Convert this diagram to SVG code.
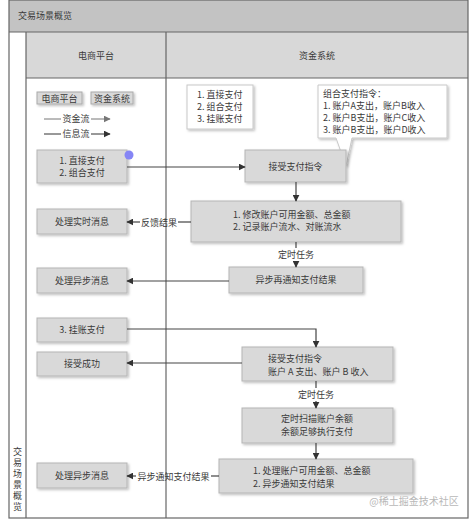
<svg xmlns="http://www.w3.org/2000/svg" width="471" height="521" viewBox="0 0 471 521">
<defs>
<marker id="ah" viewBox="0 0 10 10" refX="9" refY="5" markerWidth="7" markerHeight="7" markerUnits="userSpaceOnUse" orient="auto"><path d="M0,0 L10,5 L0,10 z" fill="#333"/></marker>
<marker id="ahl" viewBox="0 0 10 10" refX="9" refY="5" markerWidth="7" markerHeight="7" markerUnits="userSpaceOnUse" orient="auto"><path d="M0,0 L10,5 L0,10 z" fill="#777"/></marker>
<filter id="sh" x="-10%" y="-10%" width="130%" height="140%"><feDropShadow dx="1.5" dy="1.5" stdDeviation="0.8" flood-color="#000" flood-opacity="0.25"/></filter>
</defs>
<style>
text{font-family:"Noto Sans CJK SC","Noto Sans",sans-serif;fill:#3a3a3a;font-size:9px}
.box{fill:#d9d9d9;stroke:#b5b5b5;stroke-width:1;filter:url(#sh)}
.note{fill:#fff;stroke:#c8c8c8;stroke-width:1;filter:url(#sh)}
.frame{fill:none;stroke:#666;stroke-width:1.2}
.ln{fill:none;stroke:#444;stroke-width:1.2}
.c{text-anchor:middle}
</style>
<rect x="0" y="0" width="471" height="521" fill="#fff"/>
<g id="frame">
<rect x="9" y="0" width="459" height="32" fill="#c3c3c3"/>
<rect x="26" y="32" width="442" height="46" fill="#d8d8d8"/>
<rect x="9" y="0" width="459" height="518" class="frame"/>
<line x1="9" y1="32" x2="468" y2="32" class="frame"/>
<line x1="26" y1="32" x2="26" y2="518" class="frame"/>
<line x1="26" y1="78" x2="468" y2="78" class="frame"/>
<line x1="166" y1="32" x2="166" y2="518" class="frame"/>
<text x="18" y="19">交易场景概览</text>
<text x="96" y="59" class="c">电商平台</text>
<text x="317" y="59" class="c">资金系统</text>
<text x="17.5" y="447" style="writing-mode:vertical-rl;letter-spacing:2px">交易场景概览</text>
</g>
<g id="legend">
<rect x="37" y="92" width="45" height="12" fill="#d9d9d9" stroke="#aaa" filter="url(#sh)"/>
<text x="59.5" y="101.5" class="c">电商平台</text>
<rect x="91" y="92" width="42" height="12" fill="#d9d9d9" stroke="#aaa" filter="url(#sh)"/>
<text x="112" y="101.5" class="c">资金系统</text>
<line x1="44" y1="119" x2="61" y2="119" stroke="#777" stroke-width="1"/>
<text x="76" y="122" class="c">资金流</text>
<line x1="91" y1="119" x2="110" y2="119" stroke="#777" stroke-width="1" marker-end="url(#ahl)"/>
<line x1="44" y1="134" x2="61" y2="134" stroke="#333" stroke-width="1"/>
<text x="76" y="137" class="c">信息流</text>
<line x1="91" y1="134" x2="110" y2="134" stroke="#333" stroke-width="1" marker-end="url(#ah)"/>
</g>
<g id="payTypes">
<rect x="187" y="85" width="66" height="44" class="note"/>
<text x="197" y="98">1. 直接支付</text>
<text x="197" y="110">2. 组合支付</text>
<text x="197" y="122">3. 挂账支付</text>
</g>
<g id="callout">
<path d="M318,85 H447 V138 H352 L346,166 L336,138 H318 Z" class="note"/>
<text x="323" y="97">组合支付指令：</text>
<text x="323" y="109">1. 账户A支出，账户B收入</text>
<text x="323" y="121">2. 账户B支出，账户C收入</text>
<text x="323" y="133">3. 账户B支出，账户D收入</text>
</g>
<g id="n_direct"><rect x="37" y="150" width="90" height="33" class="box"/><text x="82" y="164" class="c">1. 直接支付</text><text x="82" y="176" class="c">2. 组合支付</text></g>
<circle cx="129" cy="155" r="4.5" fill="#8585f5"/>
<g id="n_accept1"><rect x="245" y="150" width="101" height="32" class="box"/><text x="295.5" y="169.5" class="c">接受支付指令</text></g>
<g id="n_realtime"><rect x="37" y="209" width="90" height="25" class="box"/><text x="82" y="224.5" class="c">处理实时消息</text></g>
<g id="n_modify"><rect x="191" y="201" width="210" height="41" class="box"/><text x="233" y="218">1. 修改账户可用金额、总金额</text><text x="233" y="230">2. 记录账户流水、对账流水</text></g>
<g id="n_async1"><rect x="37" y="268" width="90" height="25" class="box"/><text x="82" y="283.5" class="c">处理异步消息</text></g>
<g id="n_renotify"><rect x="229" y="267" width="134" height="26" class="box"/><text x="296" y="283" class="c">异步再通知支付结果</text></g>
<g id="n_hang"><rect x="37" y="318" width="90" height="24" class="box"/><text x="82" y="333" class="c">3. 挂账支付</text></g>
<g id="n_success"><rect x="37" y="352" width="90" height="24" class="box"/><text x="82" y="367" class="c">接受成功</text></g>
<g id="n_accept2"><rect x="242" y="347" width="151" height="34" class="box"/><text x="268" y="362">接受支付指令</text><text x="268" y="375">账户 A 支出、账户 B 收入</text></g>
<g id="n_scan"><rect x="242" y="408" width="151" height="35" class="box"/><text x="317" y="422" class="c">定时扫描账户余额</text><text x="317" y="435" class="c">余额足够执行支付</text></g>
<g id="n_async2"><rect x="37" y="463" width="90" height="25" class="box"/><text x="82" y="478.5" class="c">处理异步消息</text></g>
<g id="n_process"><rect x="219" y="459" width="194" height="34" class="box"/><text x="253" y="474">1. 处理账户可用金额、总金额</text><text x="253" y="487">2. 异步通知支付结果</text></g>
<g id="connectors">
<line x1="127" y1="167" x2="245" y2="167" class="ln" marker-end="url(#ah)"/>
<line x1="296" y1="182" x2="296" y2="201" class="ln" marker-end="url(#ah)"/>
<line x1="191" y1="222" x2="178" y2="222" class="ln"/>
<line x1="140" y1="222" x2="127" y2="222" class="ln" marker-end="url(#ah)"/>
<text x="159" y="225.5" class="c">反馈结果</text>
<line x1="296" y1="242" x2="296" y2="248" class="ln"/>
<text x="296" y="258" class="c">定时任务</text>
<line x1="296" y1="261" x2="296" y2="267" class="ln" marker-end="url(#ah)"/>
<line x1="229" y1="281" x2="127" y2="281" class="ln" marker-end="url(#ah)"/>
<path d="M127,329 H316 V347" class="ln" marker-end="url(#ah)"/>
<line x1="242" y1="363" x2="127" y2="363" class="ln" marker-end="url(#ah)"/>
<line x1="316" y1="381" x2="316" y2="388" class="ln"/>
<text x="316" y="398" class="c">定时任务</text>
<line x1="316" y1="401" x2="316" y2="408" class="ln" marker-end="url(#ah)"/>
<line x1="316" y1="443" x2="316" y2="459" class="ln" marker-end="url(#ah)"/>
<line x1="219" y1="476" x2="211" y2="476" class="ln"/>
<line x1="136" y1="476" x2="127" y2="476" class="ln" marker-end="url(#ah)"/>
<text x="173.5" y="479.5" class="c">异步通知支付结果</text>
</g>
<text x="414" y="505" class="c" style="fill:#b8b8b8;font-size:10px">@稀土掘金技术社区</text>
</svg>
